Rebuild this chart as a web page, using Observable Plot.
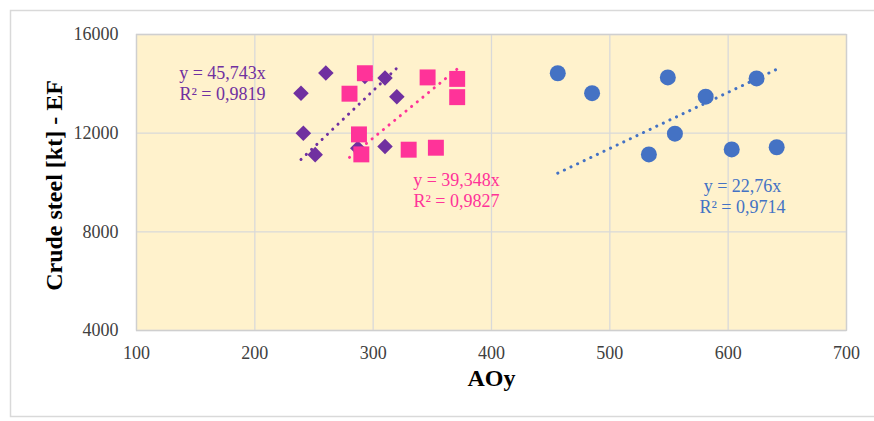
<!DOCTYPE html>
<html><head><meta charset="utf-8">
<script src="https://cdn.jsdelivr.net/npm/d3@7"></script>
<script src="https://cdn.jsdelivr.net/npm/@observablehq/plot@0.6"></script>
<style>body{margin:0;background:#fff;}</style>
</head><body><div id="chart"></div>
<script>
// Data
const purpleX = [260, 239, 241, 251, 310, 320, 310, 287, 293];
const purpleY = [14440, 13620, 12000, 11130, 14240, 13480, 11460, 11390, 14300];
const pinkX = [293, 280, 288, 290, 346, 371, 371, 330, 353];
const pinkY = [14430, 13600, 11950, 11140, 14260, 14200, 13460, 11330, 11410];
const blueX = [456, 485, 549, 581, 624, 555, 533, 603, 641];
const blueY = [14430, 13620, 14260, 13480, 14220, 11980, 11140, 11340, 11430];
const slopes = [45.743, 39.348, 22.76];
const eqLabels = ["y = 45,743x\nR² = 0,9819", "y = 39,348x\nR² = 0,9827", "y = 22,76x\nR² = 0,9714"];
const xTicks = [100, 200, 300, 400, 500, 600, 700];
const yTicks = [4000, 8000, 12000, 16000];
const xTitle = "AOy";
const yTitle = "Crude steel [kt] - EF";

const colors = ["#7030A0", "#FF3399", "#4472C4"];
const toPts = (xs, ys) => xs.map((x, i) => ({x, y: ys[i]}));
const purple = toPts(purpleX, purpleY);
const pink = toPts(pinkX, pinkY);
const blue = toPts(blueX, blueY);
const trend = (xs, k) => { const [a, b] = d3.extent(xs); return [{x: a, y: k * a}, {x: b, y: k * b}]; };

const serif = "'Liberation Serif', 'Times New Roman', serif";
const lineStyle = {x: "x", y: "y", strokeWidth: 3, strokeDasharray: "0.1 7.2", strokeLinecap: "round"};
const textStyle = {frameAnchor: "top-left", fontSize: 18, fontFamily: serif, textAnchor: "middle", lineAnchor: "top", lineHeight: 1.14};

const chart = Plot.plot({
  width: 874, height: 421,
  marginLeft: 136, marginRight: 28, marginTop: 34, marginBottom: 91,
  style: {fontFamily: serif, fontSize: "18px", color: "#404040", background: "transparent"},
  x: {domain: [100, 700]},
  y: {domain: [4000, 16000]},
  marks: [
    Plot.frame({fill: "#FFF2CC"}),
    Plot.gridX({ticks: xTicks, stroke: "#D9D9D9", strokeOpacity: 1, strokeWidth: 1.3}),
    Plot.gridY({ticks: yTicks, stroke: "#D9D9D9", strokeOpacity: 1, strokeWidth: 1.3}),
    Plot.frame({stroke: "#CFCFCF", strokeWidth: 1.3}),
    Plot.axisX({ticks: xTicks, tickSize: 0, tickPadding: 16, tickFormat: d => String(d), label: null, fontSize: 18}),
    Plot.axisY({ticks: yTicks, tickSize: 0, tickPadding: 18, tickFormat: d => String(d), label: null, fontSize: 18}),
    Plot.dot(purple, {x: "x", y: "y", symbol: "diamond2", r: 7, fill: colors[0]}),
    Plot.dot(pink, {x: "x", y: "y", symbol: "square", r: 9, fill: colors[1]}),
    Plot.dot(blue, {x: "x", y: "y", symbol: "circle", r: 8, fill: colors[2]}),
    Plot.line(trend(purpleX, slopes[0]), {...lineStyle, stroke: colors[0]}),
    Plot.line(trend(pinkX, slopes[1]), {...lineStyle, stroke: colors[1]}),
    Plot.line(trend(blueX, slopes[2]), {...lineStyle, stroke: colors[2]}),
    Plot.text([eqLabels[0]], {...textStyle, fill: colors[0], dx: 86, dy: 30}),
    Plot.text([eqLabels[1]], {...textStyle, fill: colors[1], dx: 320, dy: 137}),
    Plot.text([eqLabels[2]], {...textStyle, fill: colors[2], dx: 606, dy: 143}),
    Plot.text([xTitle], {frameAnchor: "bottom", dy: 55, fontSize: 24, fontWeight: "bold", fontFamily: serif, fill: "#000"}),
    Plot.text([yTitle], {frameAnchor: "left", textAnchor: "middle", lineAnchor: "middle", rotate: -90, dx: -82, dy: 3, fontSize: 24, fontWeight: "bold", fontFamily: serif, fill: "#000"})
  ]
});
d3.select(chart).insert("rect", ":first-child")
  .attr("x", 10.5).attr("y", 10.5).attr("width", 900).attr("height", 406)
  .attr("fill", "#fff").attr("stroke", "#D9D9D9").attr("stroke-width", 1.5);
document.getElementById("chart").appendChild(chart);
</script>
</body></html>
